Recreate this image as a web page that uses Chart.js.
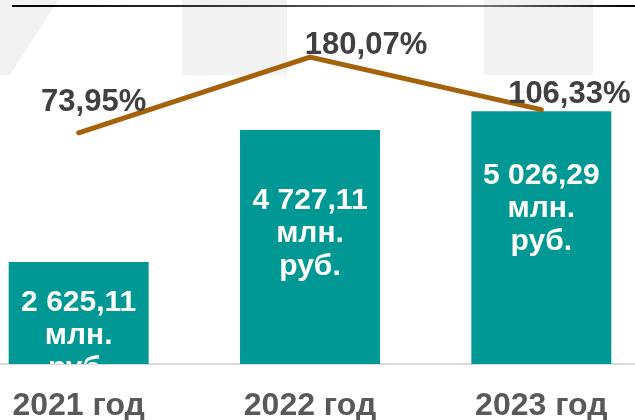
<!DOCTYPE html>
<html>
<head>
<meta charset="utf-8">
<script src="https://cdn.jsdelivr.net/npm/chart.js@4"></script>
<style>
    body { margin: 0; background: #fff; overflow: hidden; }
    #wrap { position: absolute; left: -37px; top: 0; width: 694px; height: 420px; }
</style>
</head>
<body>
<div id="wrap"><canvas id="chart" width="694" height="420"></canvas></div>
<script>
const years = ['2021 год', '2022 год', '2023 год'];
const revenue = [2625.11, 4727.11, 5026.29];
const growth = [73.95, 180.07, 106.33];

const SHIFT = 37;
// label placement (style only)
const barLabelTop = [49, 79, 73];
const pctOffsets = [[15, -30], [56, -12], [28, -15]];

function fmtMoney(v) {
    const parts = v.toFixed(2).split('.');
    return parts[0].replace(/\B(?=(\d{3})+(?!\d))/g, ' ') + ',' + parts[1];
}

const backdrop = {
    id: 'backdrop',
    beforeDraw(chart) {
        const ctx = chart.ctx;
        ctx.save();
        ctx.translate(SHIFT, 0);
        ctx.fillStyle = '#f2f2f2';
        ctx.beginPath();
        ctx.moveTo(0, 0); ctx.lineTo(58, 0); ctx.lineTo(10, 75); ctx.lineTo(0, 75);
        ctx.closePath();
        ctx.fill();
        ctx.fillRect(182, 0, 105, 75);
        ctx.fillRect(484, 0, 109, 75);
        const g = ctx.createLinearGradient(12, 0, 635, 0);
        g.addColorStop(0, '#000');
        g.addColorStop(0.75, '#777');
        g.addColorStop(1, '#000');
        ctx.strokeStyle = g;
        ctx.lineWidth = 2;
        ctx.beginPath();
        ctx.moveTo(12, 6); ctx.lineTo(635, 6);
        ctx.stroke();
        ctx.restore();
    }
};

const valueLabels = {
    id: 'valueLabels',
    afterDatasetsDraw(chart) {
        const ctx = chart.ctx;
        const area = chart.chartArea;
        ctx.save();
        ctx.beginPath();
        ctx.rect(area.left, area.top, area.right - area.left, area.bottom - area.top);
        ctx.clip();
        ctx.fillStyle = '#fff';
        ctx.font = 'bold 30px "Liberation Sans", Arial, sans-serif';
        ctx.textAlign = 'center';
        ctx.textBaseline = 'alphabetic';
        chart.getDatasetMeta(1).data.forEach((bar, i) => {
            const lines = [fmtMoney(revenue[i]), 'млн.', 'руб.'];
            lines.forEach((t, j) => {
                ctx.fillText(t, bar.x, bar.y + barLabelTop[i] + j * 33);
            });
        });
        ctx.restore();

        ctx.save();
        ctx.fillStyle = '#404040';
        ctx.font = 'bold 31px "Liberation Sans", Arial, sans-serif';
        ctx.textAlign = 'center';
        ctx.textBaseline = 'middle';
        chart.getDatasetMeta(0).data.forEach((pt, i) => {
            const txt = growth[i].toFixed(2).replace('.', ',') + '%';
            ctx.fillText(txt, pt.x + pctOffsets[i][0], pt.y + pctOffsets[i][1]);
        });
        ctx.restore();
    }
};

const ctx = document.getElementById('chart').getContext('2d');
new Chart(ctx, {
    data: {
        labels: years,
        datasets: [{
            type: 'line',
            data: growth,
            yAxisID: 'y2',
            borderColor: '#A5620B',
            borderWidth: 5,
            borderCapStyle: 'round',
            pointRadius: 0,
            tension: 0,
            order: 0
        }, {
            type: 'bar',
            data: revenue,
            yAxisID: 'y',
            backgroundColor: '#009894',
            barPercentage: 0.605,
            categoryPercentage: 1,
            order: 1
        }]
    },
    options: {
        responsive: false,
        animation: false,
        layout: { padding: 0 },
        plugins: {
            legend: { display: false },
            tooltip: { enabled: false }
        },
        scales: {
            x: {
                grid: { display: false, drawTicks: false },
                border: { display: true, color: '#d9d9d9', width: 2 },
                ticks: {
                    color: '#595959',
                    padding: 26,
                    font: { family: '"Liberation Sans", Arial, sans-serif', size: 32, weight: 'bold', lineHeight: 1 }
                },
                afterFit(axis) { axis.height = 56; }
            },
            y: { display: false, min: 1000, max: 6800 },
            y2: { display: false, min: -250, max: 260 }
        }
    },
    plugins: [backdrop, valueLabels]
});
</script>
</body>
</html>
